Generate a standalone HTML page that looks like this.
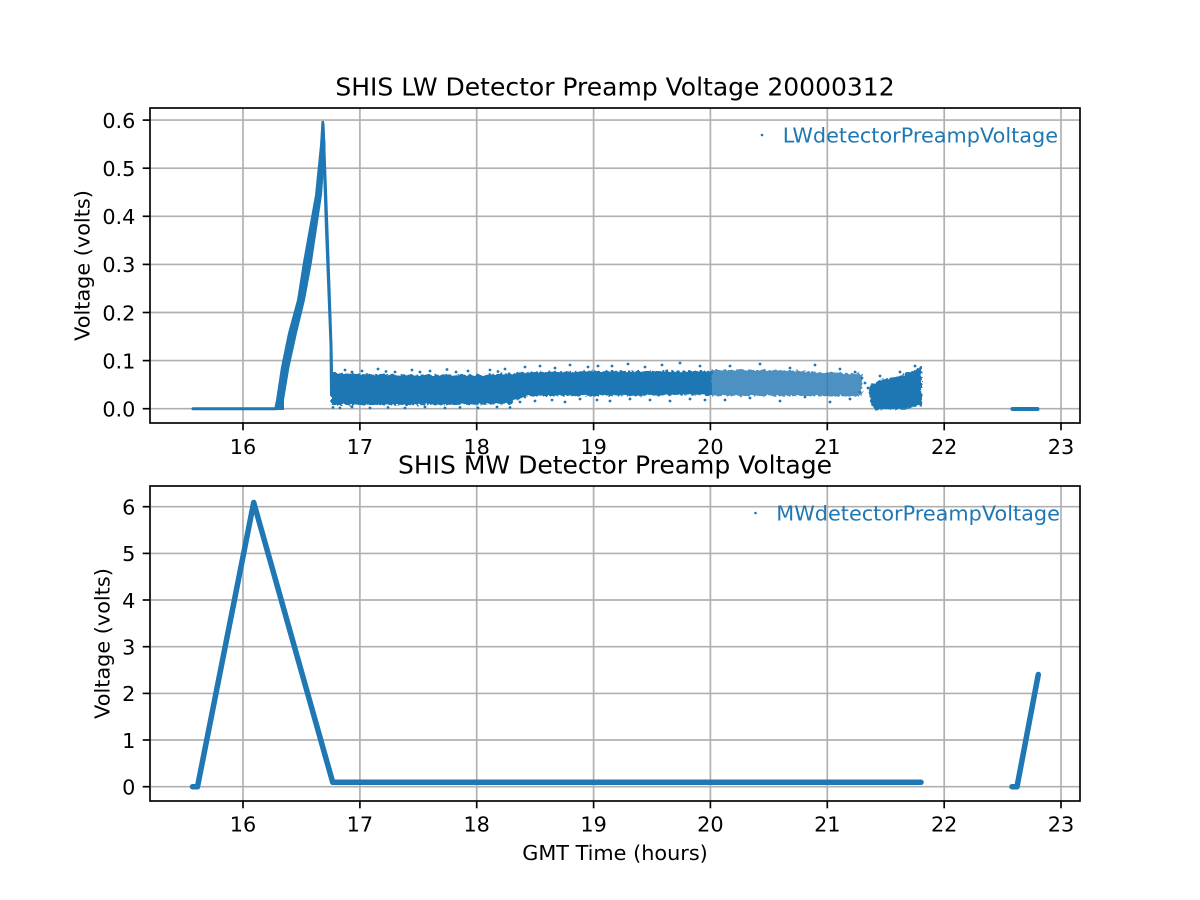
<!DOCTYPE html>
<html><head><meta charset="utf-8"><style>
html,body{margin:0;padding:0;background:#fff;}
svg{display:block;}
text{font-family:"DejaVu Sans","Liberation Sans",sans-serif;fill:#000;}
</style></head><body>
<svg width="1200" height="900" viewBox="0 0 1200 900" xmlns="http://www.w3.org/2000/svg">
<defs>
  <filter id="rough" x="-5%" y="-20%" width="110%" height="140%">
    <feTurbulence type="fractalNoise" baseFrequency="0.35" numOctaves="2" seed="3" result="n"/>
    <feDisplacementMap in="SourceGraphic" in2="n" scale="5" xChannelSelector="R" yChannelSelector="G"/>
  </filter>
</defs>
<rect x="0" y="0" width="1200" height="900" fill="#fff"/>

<!-- ============ TOP AXES ============ -->
<g stroke="#b0b0b0" stroke-width="1.67" fill="none">
  <line x1="243" y1="108" x2="243" y2="423"/>
  <line x1="359.9" y1="108" x2="359.9" y2="423"/>
  <line x1="476.7" y1="108" x2="476.7" y2="423"/>
  <line x1="593.6" y1="108" x2="593.6" y2="423"/>
  <line x1="710.4" y1="108" x2="710.4" y2="423"/>
  <line x1="827.3" y1="108" x2="827.3" y2="423"/>
  <line x1="944.2" y1="108" x2="944.2" y2="423"/>
  <line x1="1061" y1="108" x2="1061" y2="423"/>
  <line x1="150" y1="408.7" x2="1080" y2="408.7"/>
  <line x1="150" y1="360.6" x2="1080" y2="360.6"/>
  <line x1="150" y1="312.5" x2="1080" y2="312.5"/>
  <line x1="150" y1="264.4" x2="1080" y2="264.4"/>
  <line x1="150" y1="216.3" x2="1080" y2="216.3"/>
  <line x1="150" y1="168.2" x2="1080" y2="168.2"/>
  <line x1="150" y1="120.1" x2="1080" y2="120.1"/>
</g>

<g fill="#1f77b4">
  <!-- flat zero segment -->
  <rect x="191.5" y="407.2" width="86" height="3" rx="1.5"/>
  <!-- ramp -->
  <polygon points="274,410 276,400 281,367 288,333 297,300 303,262 315,195 320,145 321.5,121 324,121 325.5,145 322,195 312,262 305,300 297,333 289.5,367 284,400 284,410"/>
  <!-- drop -->
  <polygon points="321.5,123 325,230 329.5,345 330,396 333.5,396 332.5,345 328.5,230 324.5,123"/>
  <g filter="url(#rough)">
    <!-- dense band -->
    <polygon points="331,373 360,374 420,375 480,374.5 511,373.5 530,372 600,371 712,371 712,395 600,396 530,396 515,400 511,404 420,405 331,405"/>
    <!-- sparse region -->
    <polygon fill-opacity="0.8" points="712,370 780,370 862,374 862,396 780,396 712,396"/>
    <!-- dip -->
    <polygon points="869,386 880,380 895,377 910,372 921,367 922,370 922,405 905,409 875,410 870,402"/>
  </g>
  <!-- final flat -->
  <rect x="1010.5" y="407" width="29" height="4" rx="2"/>
  <!-- outliers -->
  <circle cx="345" cy="370" r="1.4"/><circle cx="362" cy="371" r="1.4"/><circle cx="378" cy="369" r="1.4"/>
  <circle cx="395" cy="372" r="1.4"/><circle cx="412" cy="370" r="1.4"/><circle cx="430" cy="371" r="1.4"/>
  <circle cx="447" cy="369.5" r="1.4"/><circle cx="468" cy="371" r="1.4"/><circle cx="490" cy="370" r="1.4"/>
  <circle cx="505" cy="369" r="1.4"/>
  <circle cx="352" cy="372" r="1.4"/><circle cx="386" cy="371.5" r="1.4"/><circle cx="420" cy="372" r="1.4"/>
  <circle cx="456" cy="372" r="1.4"/><circle cx="498" cy="371.5" r="1.4"/>
  <circle cx="333" cy="407.5" r="1.4"/><circle cx="340" cy="408" r="1.4"/><circle cx="352" cy="407" r="1.4"/>
  <circle cx="370" cy="408" r="1.4"/><circle cx="388" cy="407.5" r="1.4"/><circle cx="405" cy="408" r="1.4"/>
  <circle cx="425" cy="407" r="1.4"/><circle cx="445" cy="408" r="1.4"/><circle cx="460" cy="407.5" r="1.4"/>
  <circle cx="478" cy="408" r="1.4"/><circle cx="497" cy="407" r="1.4"/><circle cx="510" cy="407.5" r="1.4"/>
  <circle cx="525" cy="367" r="1.4"/><circle cx="540" cy="366" r="1.4"/><circle cx="555" cy="368" r="1.4"/>
  <circle cx="570" cy="365" r="1.4"/><circle cx="588" cy="367" r="1.4"/><circle cx="598" cy="366" r="1.4"/>
  <circle cx="520" cy="402" r="1.4"/><circle cx="535" cy="401" r="1.4"/><circle cx="552" cy="400" r="1.4"/>
  <circle cx="565" cy="402" r="1.4"/><circle cx="580" cy="399" r="1.4"/><circle cx="597" cy="400" r="1.4"/>
  <circle cx="612" cy="366" r="1.4"/><circle cx="628" cy="364" r="1.4"/><circle cx="645" cy="367" r="1.4"/>
  <circle cx="662" cy="365" r="1.4"/><circle cx="680" cy="363" r="1.4"/><circle cx="700" cy="366" r="1.4"/>
  <circle cx="610" cy="401" r="1.4"/><circle cx="630" cy="399" r="1.4"/><circle cx="650" cy="400" r="1.4"/>
  <circle cx="670" cy="401" r="1.4"/><circle cx="690" cy="399" r="1.4"/><circle cx="705" cy="400" r="1.4"/>
  <circle cx="730" cy="366" r="1.4"/><circle cx="760" cy="364" r="1.4"/><circle cx="790" cy="368" r="1.4"/>
  <circle cx="815" cy="365" r="1.4"/><circle cx="840" cy="369" r="1.4"/><circle cx="855" cy="372" r="1.4"/>
  <circle cx="725" cy="400" r="1.4"/><circle cx="750" cy="398" r="1.4"/><circle cx="780" cy="401" r="1.4"/>
  <circle cx="805" cy="397" r="1.4"/><circle cx="830" cy="402" r="1.4"/><circle cx="850" cy="399" r="1.4"/>
  <circle cx="862" cy="378" r="1.4"/><circle cx="865" cy="383" r="1.4"/><circle cx="868" cy="388" r="1.4"/>
  <circle cx="860" cy="392" r="1.4"/><circle cx="880" cy="376" r="1.4"/><circle cx="900" cy="372" r="1.4"/>
  <circle cx="915" cy="366" r="1.4"/>
</g>

<!-- spines -->
<rect x="150" y="108" width="930" height="315" fill="none" stroke="#000" stroke-width="1.67"/>
<!-- ticks -->
<g stroke="#000" stroke-width="1.67">
  <line x1="243" y1="423" x2="243" y2="430.3"/>
  <line x1="359.9" y1="423" x2="359.9" y2="430.3"/>
  <line x1="476.7" y1="423" x2="476.7" y2="430.3"/>
  <line x1="593.6" y1="423" x2="593.6" y2="430.3"/>
  <line x1="710.4" y1="423" x2="710.4" y2="430.3"/>
  <line x1="827.3" y1="423" x2="827.3" y2="430.3"/>
  <line x1="944.2" y1="423" x2="944.2" y2="430.3"/>
  <line x1="1061" y1="423" x2="1061" y2="430.3"/>
  <line x1="142.7" y1="408.7" x2="150" y2="408.7"/>
  <line x1="142.7" y1="360.6" x2="150" y2="360.6"/>
  <line x1="142.7" y1="312.5" x2="150" y2="312.5"/>
  <line x1="142.7" y1="264.4" x2="150" y2="264.4"/>
  <line x1="142.7" y1="216.3" x2="150" y2="216.3"/>
  <line x1="142.7" y1="168.2" x2="150" y2="168.2"/>
  <line x1="142.7" y1="120.1" x2="150" y2="120.1"/>
</g>
<g font-size="20.8" text-anchor="middle">
  <text x="243" y="453.8">16</text>
  <text x="359.9" y="453.8">17</text>
  <text x="476.7" y="453.8">18</text>
  <text x="593.6" y="453.8">19</text>
  <text x="710.4" y="453.8">20</text>
  <text x="827.3" y="453.8">21</text>
  <text x="944.2" y="453.8">22</text>
  <text x="1061" y="453.8">23</text>
</g>
<g font-size="20.8" text-anchor="end">
  <text x="135.4" y="416.5">0.0</text>
  <text x="135.4" y="368.4">0.1</text>
  <text x="135.4" y="320.3">0.2</text>
  <text x="135.4" y="272.2">0.3</text>
  <text x="135.4" y="224.1">0.4</text>
  <text x="135.4" y="176">0.5</text>
  <text x="135.4" y="127.9">0.6</text>
</g>
<text x="615" y="95.5" font-size="25" text-anchor="middle">SHIS LW Detector Preamp Voltage 20000312</text>
<text transform="translate(89.4,265.5) rotate(-90)" font-size="20.8" text-anchor="middle">Voltage (volts)</text>
<circle cx="762" cy="135" r="1.3" fill="#1f77b4"/>
<text x="782.7" y="142.7" font-size="20.8" style="fill:#1f77b4">LWdetectorPreampVoltage</text>

<!-- ============ BOTTOM AXES ============ -->
<g stroke="#b0b0b0" stroke-width="1.67" fill="none">
  <line x1="243" y1="486" x2="243" y2="801"/>
  <line x1="359.9" y1="486" x2="359.9" y2="801"/>
  <line x1="476.7" y1="486" x2="476.7" y2="801"/>
  <line x1="593.6" y1="486" x2="593.6" y2="801"/>
  <line x1="710.4" y1="486" x2="710.4" y2="801"/>
  <line x1="827.3" y1="486" x2="827.3" y2="801"/>
  <line x1="944.2" y1="486" x2="944.2" y2="801"/>
  <line x1="1061" y1="486" x2="1061" y2="801"/>
  <line x1="150" y1="786.7" x2="1080" y2="786.7"/>
  <line x1="150" y1="740" x2="1080" y2="740"/>
  <line x1="150" y1="693.4" x2="1080" y2="693.4"/>
  <line x1="150" y1="646.7" x2="1080" y2="646.7"/>
  <line x1="150" y1="600" x2="1080" y2="600"/>
  <line x1="150" y1="553.4" x2="1080" y2="553.4"/>
  <line x1="150" y1="506.7" x2="1080" y2="506.7"/>
</g>
<g fill="none" stroke="#1f77b4" stroke-width="5.5" stroke-linecap="round" stroke-linejoin="round">
  <polyline points="192.5,786.7 197.5,786.7 253.7,502.5 332.7,782.3 921,782.3"/>
  <polyline points="1012,786.7 1017,786.7 1038.3,674.5"/>
</g>
<rect x="150" y="486" width="930" height="315" fill="none" stroke="#000" stroke-width="1.67"/>
<g stroke="#000" stroke-width="1.67">
  <line x1="243" y1="801" x2="243" y2="808.3"/>
  <line x1="359.9" y1="801" x2="359.9" y2="808.3"/>
  <line x1="476.7" y1="801" x2="476.7" y2="808.3"/>
  <line x1="593.6" y1="801" x2="593.6" y2="808.3"/>
  <line x1="710.4" y1="801" x2="710.4" y2="808.3"/>
  <line x1="827.3" y1="801" x2="827.3" y2="808.3"/>
  <line x1="944.2" y1="801" x2="944.2" y2="808.3"/>
  <line x1="1061" y1="801" x2="1061" y2="808.3"/>
  <line x1="142.7" y1="786.7" x2="150" y2="786.7"/>
  <line x1="142.7" y1="740" x2="150" y2="740"/>
  <line x1="142.7" y1="693.4" x2="150" y2="693.4"/>
  <line x1="142.7" y1="646.7" x2="150" y2="646.7"/>
  <line x1="142.7" y1="600" x2="150" y2="600"/>
  <line x1="142.7" y1="553.4" x2="150" y2="553.4"/>
  <line x1="142.7" y1="506.7" x2="150" y2="506.7"/>
</g>
<g font-size="20.8" text-anchor="middle">
  <text x="243" y="831.4">16</text>
  <text x="359.9" y="831.4">17</text>
  <text x="476.7" y="831.4">18</text>
  <text x="593.6" y="831.4">19</text>
  <text x="710.4" y="831.4">20</text>
  <text x="827.3" y="831.4">21</text>
  <text x="944.2" y="831.4">22</text>
  <text x="1061" y="831.4">23</text>
</g>
<g font-size="20.8" text-anchor="end">
  <text x="135.4" y="794.5">0</text>
  <text x="135.4" y="747.8">1</text>
  <text x="135.4" y="701.2">2</text>
  <text x="135.4" y="654.5">3</text>
  <text x="135.4" y="607.8">4</text>
  <text x="135.4" y="561.2">5</text>
  <text x="135.4" y="514.5">6</text>
</g>
<text x="615" y="473.5" font-size="25" text-anchor="middle">SHIS MW Detector Preamp Voltage</text>
<text transform="translate(109.3,643.5) rotate(-90)" font-size="20.8" text-anchor="middle">Voltage (volts)</text>
<text x="615" y="860" font-size="20.8" text-anchor="middle">GMT Time (hours)</text>
<circle cx="755.5" cy="513" r="1.3" fill="#1f77b4"/>
<text x="776.3" y="520.7" font-size="20.8" style="fill:#1f77b4">MWdetectorPreampVoltage</text>
</svg>
</body></html>
